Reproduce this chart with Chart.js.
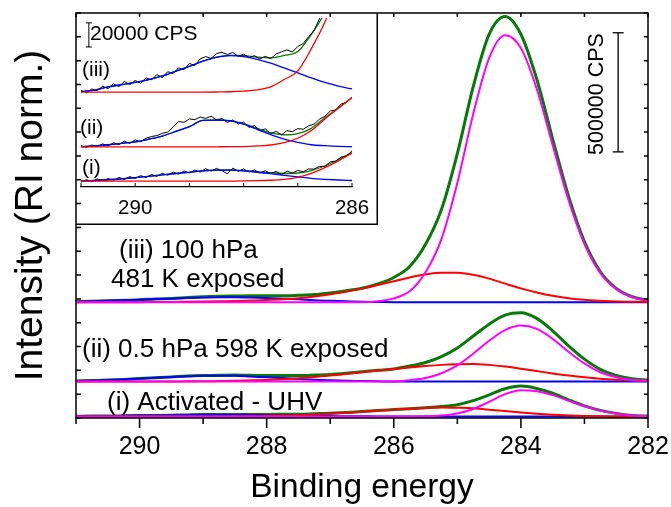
<!DOCTYPE html>
<html>
<head>
<meta charset="utf-8">
<script src="https://cdn.jsdelivr.net/npm/chart.js@4.4.1/dist/chart.umd.min.js"></script>
<style>
  html, body { margin: 0; padding: 0; background: #fff; }
  #wrap { position: relative; width: 671px; height: 507px; }
  #main { position: absolute; left: 0; top: 0; }
  #inset { position: absolute; left: 76px; top: 13px; }
</style>
</head>
<body>
<div id="wrap">
  <canvas id="main" width="671" height="507"></canvas>
  <canvas id="inset" width="302" height="212"></canvas>
</div>
<script>
// ---- main panel: binding energy (eV), intensities in kCPS above each spectrum's baseline
var energy = [291, 290.75, 290.5, 290.25, 290, 289.75, 289.5, 289.25, 289, 288.75, 288.5, 288.25, 288,
  287.75, 287.5, 287.25, 287, 286.75, 286.5, 286.25, 286, 285.75, 285.5, 285.25, 285, 284.75, 284.5,
  284.25, 284, 283.75, 283.5, 283.25, 283, 282.75, 282.5, 282.25, 282];
var baselines = [6, 153, 486]; // (i), (ii), (iii)

var fitIII   = [2, 4, 6, 8, 10, 14, 16, 20, 23, 25, 26, 27, 27, 27, 29, 32, 39, 48, 59, 77, 104, 150, 243, 389, 624, 905, 1124, 1199, 1125, 936, 686, 445, 254, 128, 58, 23, 8];
var peakIII  = [0, 0, 0, 0, 0, 0, 0, 0, 0, 0, 0, 0, 0, 0, 0, 0, 0, 0, 0, 4, 16, 46, 126, 265, 500, 790, 1025, 1121, 1067, 895, 659, 428, 244, 122, 55, 21, 7];
var redIII   = [0, 0, 0, 0, 0, 1, 1, 2, 3, 4, 5, 7, 9, 12, 17, 24, 33, 44, 57, 72, 88, 104, 117, 124, 124, 115, 99, 78, 58, 41, 27, 17, 10, 6, 3, 2, 1];
var blueIII  = [2, 4, 6, 8, 10, 13, 15, 18, 20, 21, 21, 20, 18, 15, 12, 8, 6, 4, 2, 1, 0, 0, 0, 0, 0, 0, 0, 0, 0, 0, 0, 0, 0, 0, 0, 0, 0];

var fitII    = [2, 4, 6, 9, 13, 16, 19, 23, 25, 26, 27, 26, 25, 25, 25, 27, 30, 35, 41, 47, 53, 65, 80, 105, 141, 191, 241, 279, 289, 265, 213, 150, 94, 51, 26, 12, 6];
var peakII   = [0, 0, 0, 0, 0, 0, 0, 0, 0, 0, 0, 0, 0, 0, 0, 0, 0, 0, 0, 0, 0, 6, 15, 35, 68, 117, 171, 216, 235, 221, 179, 125, 76, 39, 18, 7, 3];
var redII    = [0, 0, 0, 0, 0, 0, 0, 1, 1, 2, 3, 5, 7, 10, 14, 19, 25, 32, 39, 46, 53, 59, 65, 70, 73, 74, 70, 63, 54, 44, 34, 25, 18, 12, 8, 5, 3];
var blueII   = [2, 4, 6, 9, 13, 16, 19, 22, 24, 24, 24, 21, 18, 15, 11, 8, 5, 3, 2, 1, 0, 0, 0, 0, 0, 0, 0, 0, 0, 0, 0, 0, 0, 0, 0, 0, 0];

var fitI     = [1, 2, 2, 3, 4, 5, 6, 7, 8.3, 8.6, 9, 9, 9, 9.5, 10, 12, 14, 17.5, 21, 25.5, 29.2, 33, 37, 42, 50, 67, 91, 117, 128, 118, 98, 70.5, 45.2, 26, 13.4, 5, 2];
var peakI    = [0, 0, 0, 0, 0, 0, 0, 0, 0, 0, 0, 0, 0, 0, 0, 0, 0, 0, 0, 0, 0, 0, 1, 4, 13, 32, 62, 94, 111, 106, 90, 66, 43, 25, 13, 5, 2];
var redI     = [0, 0, 0, 0, 0, 0, 0, 0, 0.3, 0.6, 1, 2, 3, 4.5, 6, 9, 12, 16, 20, 25, 29, 33, 36, 38, 37, 35, 29, 23, 17, 12, 8, 4.5, 2.2, 1, 0.4, 0, 0];
var blueI    = [1, 2, 2, 3, 4, 5, 6, 7, 8, 8, 8, 7, 6, 5, 4, 3, 2, 1.5, 1, 0.5, 0.2, 0, 0, 0, 0, 0, 0, 0, 0, 0, 0, 0, 0, 0, 0, 0, 0];

var scaleBarMain = [1117, 1617]; // 500000 CPS bar, kCPS

// ---- inset: 291-286 eV, kCPS above each baseline
var insetEnergy = [291, 290.75, 290.5, 290.25, 290, 289.75, 289.5, 289.25, 289, 288.75, 288.5,
  288.25, 288, 287.75, 287.5, 287.25, 287, 286.75, 286.5, 286.25, 286];
var insetBaselines = [4.8, 33.2, 78.6];

var inFitIII  = [0.4, 1.6, 4.3, 6.2, 8.0, 10.4, 13.4, 17.4, 21.4, 25.6, 28.9, 30.5, 30.2, 29.0, 28.4, 30.4, 33.6, 47.8, 66, 93, 126.6];
var inRedIII  = [0, 0, 0, 0, 0, 0, 0, 0, 0, 0, 0.1, 0.3, 0.8, 1.8, 4.4, 10.4, 17.6, 36, 58, 88, 124];
var inBlueIII = [0.4, 1.6, 4.3, 6.2, 8.0, 10.4, 13.4, 17.4, 21.4, 25.6, 28.8, 30.2, 29.4, 27.2, 24.0, 20.0, 16.0, 11.8, 8.0, 5.0, 2.6];

var inFitII   = [0.2, 0.8, 1.8, 3.0, 4.2, 6.4, 9.0, 12.8, 16.8, 22.0, 22.3, 21.8, 19.1, 15.4, 11.8, 10.0, 11.0, 15.4, 24.2, 32.4, 41.0];
var inRedII   = [0, 0, 0, 0, 0, 0, 0, 0, 0, 0, 0.1, 0.2, 0.3, 0.8, 1.6, 3.6, 7.2, 13.6, 23.2, 32, 40.8];
var inBlueII  = [0.2, 0.8, 1.8, 3.0, 4.2, 6.4, 9.0, 12.8, 16.8, 22.0, 22.2, 21.6, 18.8, 14.6, 10.2, 6.4, 3.8, 1.8, 1.0, 0.4, 0.2];

var inFitI    = [0.2, 0.6, 1.2, 2.0, 3.0, 4.0, 5.2, 6.4, 7.4, 8.6, 9.2, 9.3, 8.8, 7.8, 7.0, 6.4, 6.8, 8.8, 12.8, 17.8, 23.8];
var inRedI    = [0, 0, 0, 0, 0, 0, 0, 0, 0, 0, 0, 0.1, 0.2, 0.4, 0.8, 1.6, 3.2, 6.4, 11.2, 16.8, 23.2];
var inBlueI   = [0.2, 0.6, 1.2, 2.0, 3.0, 4.0, 5.2, 6.4, 7.4, 8.6, 9.2, 9.2, 8.6, 7.4, 6.2, 4.8, 3.6, 2.4, 1.6, 1.0, 0.6];

// measured counts in the inset, 0.1 eV steps
var rawEnergy = [291, 290.9, 290.8, 290.7, 290.6, 290.5, 290.4, 290.3, 290.2, 290.1, 290, 289.9, 289.8,
  289.7, 289.6, 289.5, 289.4, 289.3, 289.2, 289.1, 289, 288.9, 288.8, 288.7, 288.6, 288.5, 288.4, 288.3,
  288.2, 288.1, 288, 287.9, 287.8, 287.7, 287.6, 287.5, 287.4, 287.3, 287.2, 287.1, 287, 286.9, 286.8,
  286.7, 286.6, 286.5, 286.4, 286.3, 286.2, 286.1, 286];
var rawIII = [1.5, -0.6, 2.6, 1.2, 4.8, 2.9, 6.8, 4.6, 8.9, 6.2, 9.6, 7.4, 11.8, 10.1, 14.6, 12.0, 16.9, 15.4, 20.1, 18.6, 23.8, 22.0, 27.6, 29.4, 28.0, 31.9, 33.0, 31.2, 32.8, 29.7, 31.4, 28.6, 30.2, 27.5, 29.6, 27.8, 31.6, 33.4, 35.0, 33.2, 37.8, 40.2, 45.9, 51.0, 60.8, 66, 77, 86, 100, 111, 127];
var rawII  = [1.2, -0.5, 1.6, 0.3, 2.5, 0.9, 3.4, 1.9, 4.7, 2.9, 5.8, 4.3, 7.2, 8.6, 9.4, 11.2, 12.3, 16.4, 21.0, 20.4, 23.2, 22.6, 24.8, 23.6, 25.4, 22.4, 23.6, 20.3, 22.4, 19.0, 20.6, 16.2, 17.8, 13.4, 14.9, 10.8, 12.9, 10.0, 13.5, 12.6, 15.2, 14.6, 17.5, 18.9, 23.0, 25.4, 29.8, 30.6, 35.6, 36.9, 41.5];
var rawI   = [-0.9, 1.3, -0.4, 1.9, 0.3, 2.2, 0.8, 3.1, 1.5, 3.8, 2.2, 4.6, 3.1, 5.6, 4.0, 6.5, 4.9, 7.5, 5.8, 8.4, 6.9, 9.2, 7.6, 10.4, 8.3, 10.6, 8.7, 6.2, 10.8, 8.2, 10.1, 7.6, 9.3, 6.8, 8.7, 6.2, 8.1, 5.4, 8.3, 6.9, 8.9, 7.8, 10.1, 10.0, 12.3, 12.2, 16.1, 16.6, 20.1, 20.8, 25.2];

var scaleBarInset = [116, 136]; // 20000 CPS bar, kCPS

var GREEN = '#087808', MAGENTA = '#ff00ff', RED = '#ff0000', BLUE = '#0000ff';
var FONT = "'Liberation Sans', Arial, sans-serif";
Chart.defaults.font.family = FONT;
Chart.defaults.color = '#000';

function pts(xs, ys, off) {
  return xs.map(function (x, i) { return { x: x, y: ys[i] + off }; });
}
function line(data, color, width, smooth) {
  return {
    data: data, borderColor: color, borderWidth: width, pointRadius: 0, fill: false,
    tension: smooth ? 0.4 : 0, cubicInterpolationMode: smooth ? 'monotone' : 'default'
  };
}

var mainSets = [];
[[peakI, redI, blueI, fitI], [peakII, redII, blueII, fitII], [peakIII, redIII, blueIII, fitIII]].forEach(function (g, k) {
  var off = baselines[k];
  mainSets.push(line(pts(energy, g[0], off), MAGENTA, 2, true));
  mainSets.push(line(pts(energy, g[1], off), RED, 2, true));
  mainSets.push(line(pts(energy, g[2], off), BLUE, 2, true));
  mainSets.push(line(pts(energy, g[3], off), GREEN, 3, true));
});
mainSets.push({
  data: [{ x: 282.47, y: scaleBarMain[0] }, { x: 282.47, y: scaleBarMain[1] }],
  borderColor: '#000', borderWidth: 1.3, pointStyle: 'line', pointRadius: 5.5,
  pointBorderColor: '#000', pointBorderWidth: 1.3
});

var mainDecor = {
  id: 'mainDecor',
  afterDraw: function (chart) {
    var ctx = chart.ctx, a = chart.chartArea, x = chart.scales.x, y = chart.scales.y;
    ctx.save();
    ctx.strokeStyle = '#000';
    ctx.lineWidth = 1.5;
    ctx.strokeRect(a.left, a.top, a.right - a.left, a.bottom - a.top);
    ctx.beginPath();
    for (var e = 282; e <= 291; e++) {
      var px = x.getPixelForValue(e);
      ctx.moveTo(px, a.bottom);
      ctx.lineTo(px, a.bottom + (e % 2 === 0 ? 10 : 6));
      ctx.moveTo(px, a.top);
      ctx.lineTo(px, a.top + 4);
    }
    for (var v = 0; v <= 1700; v += 100) {
      var py = y.getPixelForValue(v);
      ctx.moveTo(a.left, py);
      ctx.lineTo(a.left + 5, py);
      ctx.moveTo(a.right, py);
      ctx.lineTo(a.right - 4, py);
    }
    ctx.stroke();

    ctx.fillStyle = '#000';
    ctx.textAlign = 'left';
    ctx.textBaseline = 'alphabetic';
    ctx.font = '26px ' + FONT;
    ctx.fillText('(iii) 100 hPa', 119, 258);
    ctx.fillText('481 K exposed', 111, 287);
    ctx.fillText('(ii) 0.5 hPa 598 K exposed', 82, 357);
    ctx.fillText('(i) Activated - UHV', 107, 410);

    ctx.font = '21.5px ' + FONT;
    ctx.translate(603, 94);
    ctx.rotate(-Math.PI / 2);
    ctx.textAlign = 'center';
    ctx.fillText('500000 CPS', 0, 0);
    ctx.restore();
  }
};

new Chart(document.getElementById('main'), {
  type: 'line',
  data: { datasets: mainSets },
  options: {
    responsive: false, animation: false, devicePixelRatio: 1,
    layout: { padding: { top: 13, right: 23, left: 0, bottom: 0 } },
    plugins: { legend: { display: false }, tooltip: { enabled: false } },
    scales: {
      x: {
        type: 'linear', reverse: true, min: 282, max: 291,
        ticks: {
          stepSize: 1, autoSkip: false, maxRotation: 0, padding: 14,
          font: { size: 25 }, color: '#000',
          callback: function (v) { return v % 2 === 0 ? String(v) : ''; }
        },
        grid: { display: false, drawTicks: false },
        border: { display: false },
        title: { display: true, text: 'Binding energy', font: { size: 33.5 }, color: '#000', padding: { top: 0, bottom: -1 } },
        afterFit: function (s) { s.height = 89; s.paddingLeft = 0; s.paddingRight = 0; }
      },
      y: {
        min: 0, max: 1700,
        ticks: { display: false, stepSize: 100 },
        grid: { display: false, drawTicks: false },
        border: { display: false },
        title: { display: true, text: 'Intensity (RI norm.)', font: { size: 39 }, color: '#000', padding: { top: 8, bottom: 0 } },
        afterFit: function (s) { s.width = 76; }
      }
    }
  },
  plugins: [mainDecor]
});

// ---- inset
var insetSets = [];
[[inRedI, inBlueI, inFitI, rawI], [inRedII, inBlueII, inFitII, rawII], [inRedIII, inBlueIII, inFitIII, rawIII]].forEach(function (g, k) {
  var off = insetBaselines[k];
  insetSets.push(line(pts(insetEnergy, g[0], off), RED, 1.3, true));
  insetSets.push(line(pts(insetEnergy, g[1], off), BLUE, 1.3, true));
  insetSets.push(line(pts(rawEnergy, g[3], off), '#000', 1, false));
  insetSets.push(line(pts(insetEnergy, g[2], off), GREEN, 1.3, true));
});
insetSets.push({
  data: [{ x: 290.855, y: scaleBarInset[0] }, { x: 290.855, y: scaleBarInset[1] }],
  borderColor: '#000', borderWidth: 1, pointStyle: 'line', pointRadius: 3,
  pointBorderColor: '#000', pointBorderWidth: 1
});

var insetDecor = {
  id: 'insetDecor',
  afterDraw: function (chart) {
    var ctx = chart.ctx, a = chart.chartArea, x = chart.scales.x;
    var W = chart.width, H = chart.height;
    ctx.save();
    ctx.strokeStyle = '#000';
    ctx.lineWidth = 1.5;
    ctx.beginPath();
    ctx.moveTo(0, H - 0.75);
    ctx.lineTo(W - 0.75, H - 0.75);
    ctx.lineTo(W - 0.75, 0);
    ctx.stroke();
    ctx.lineWidth = 1;
    ctx.beginPath();
    for (var e = 286; e <= 291; e++) {
      var px = x.getPixelForValue(e);
      ctx.moveTo(px, a.bottom);
      ctx.lineTo(px, a.bottom - 4);
    }
    ctx.stroke();
    ctx.fillStyle = '#000';
    ctx.textBaseline = 'alphabetic';
    ctx.font = '21px ' + FONT;
    ctx.fillText('20000 CPS', 14, 27);
    ctx.fillText('(iii)', 6, 63);
    ctx.fillText('(ii)', 4, 121);
    ctx.fillText('(i)', 6, 161);
    ctx.restore();
  }
};

new Chart(document.getElementById('inset'), {
  type: 'line',
  data: { datasets: insetSets },
  options: {
    responsive: false, animation: false, devicePixelRatio: 1,
    layout: { padding: { top: 0, right: 26, left: 0, bottom: 0 } },
    plugins: { legend: { display: false }, tooltip: { enabled: false } },
    scales: {
      x: {
        type: 'linear', reverse: true, min: 286, max: 291,
        ticks: {
          stepSize: 1, autoSkip: false, maxRotation: 0, padding: 9,
          font: { size: 20.5 }, color: '#000',
          callback: function (v) { return (v === 290 || v === 286) ? String(v) : ''; }
        },
        grid: { display: false, drawTicks: false },
        border: { display: true, color: '#000', width: 1.3 },
        afterFit: function (s) { s.height = 38; s.paddingLeft = 0; s.paddingRight = 0; }
      },
      y: { display: false, min: 0, max: 140 }
    }
  },
  plugins: [insetDecor]
});
</script>
</body>
</html>
